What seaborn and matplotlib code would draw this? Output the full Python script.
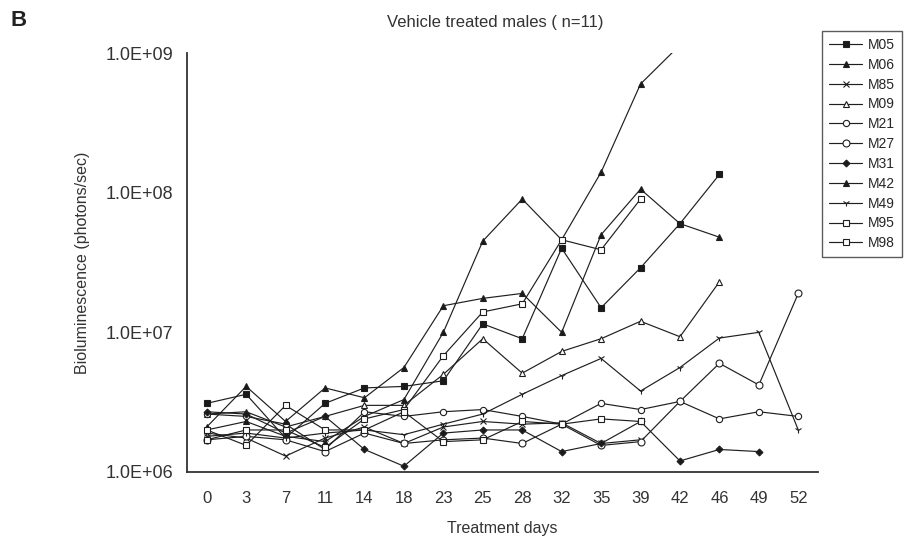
import numpy as np
import pandas as pd
import matplotlib
matplotlib.use("Agg")
import matplotlib.pyplot as plt
from matplotlib.ticker import NullLocator
import seaborn as sns

sns.set_style("white")
plt.rcParams['font.family'] = ['Liberation Sans', 'DejaVu Sans']

# --- data (photons/sec) ---
days = [0, 3, 7, 11, 14, 18, 23, 25, 28, 32, 35, 39, 42, 46, 49, 52]

m05 = [3.1e6, 3.6e6, 1.75e6, 3.1e6, 4.0e6, 4.1e6, 4.5e6, 1.15e7, 9.0e6, 4.0e7, 1.5e7, 2.9e7, 6.0e7, 1.35e8]
m06 = [2.0e6, 2.3e6, 1.8e6, 1.65e6, 2.5e6, 3.3e6, 1.0e7, 4.5e7, 9.0e7, 4.6e7, 1.4e8, 6.0e8, 1.14e9]
m85 = [1.9e6, 1.75e6, 1.3e6, 1.75e6, 2.1e6, 1.6e6, 2.1e6, 2.3e6, 2.2e6, 2.25e6, 1.6e6, 1.7e6]
m09 = [2.6e6, 2.7e6, 2.1e6, 2.5e6, 3.0e6, 3.0e6, 5.0e6, 9.0e6, 5.1e6, 7.3e6, 9.0e6, 1.2e7, 9.3e6, 2.3e7]
m21 = [2.6e6, 2.5e6, 2.2e6, 1.45e6, 2.7e6, 2.5e6, 2.7e6, 2.8e6, 2.5e6, 2.2e6, 3.1e6, 2.8e6, 3.2e6, 2.4e6, 2.7e6, 2.5e6]
m27 = [1.7e6, 1.8e6, 1.7e6, 1.4e6, 1.9e6, 1.6e6, 1.7e6, 1.75e6, 1.6e6, 2.2e6, 1.55e6, 1.65e6, 3.2e6, 6.0e6, 4.2e6, 1.9e7]
m31 = [2.7e6, 2.6e6, 1.9e6, 2.5e6, 1.45e6, 1.1e6, 1.9e6, 2.0e6, 2.0e6, 1.4e6, 1.6e6, 2.3e6, 1.2e6, 1.45e6, 1.4e6]
m42 = [2.1e6, 4.1e6, 2.3e6, 4.0e6, 3.4e6, 5.6e6, 1.55e7, 1.75e7, 1.9e7, 1.0e7, 5.0e7, 1.06e8, 6.0e7, 4.8e7]
m49 = [1.8e6, 1.9e6, 1.75e6, 1.9e6, 2.0e6, 1.85e6, 2.2e6, 2.6e6, 3.6e6, 4.9e6, 6.5e6, 3.8e6, 5.6e6, 9.1e6, 1.0e7, 2.0e6]
m95 = [1.7e6, 2.0e6, 2.0e6, 1.5e6, 2.4e6, 2.8e6, 6.8e6, 1.4e7, 1.6e7, 4.6e7, 3.9e7, 9.0e7]
m98 = [2.0e6, 1.55e6, 3.0e6, 2.0e6, 2.0e6, 2.7e6, 1.65e6, 1.7e6, 2.3e6, 2.2e6, 2.4e6, 2.3e6]

names = ['M05', 'M06', 'M85', 'M09', 'M21', 'M27', 'M31', 'M42', 'M49', 'M95', 'M98']
series = [m05, m06, m85, m09, m21, m27, m31, m42, m49, m95, m98]

# marker, face colour, size
styles = {
    'M05': ('s', '#1a1a1a', 4),
    'M06': ('^', '#1a1a1a', 4.2),
    'M85': ('x', '#1a1a1a', 4),
    'M09': ('^', 'white', 4.5),
    'M21': ('o', 'white', 4.5),
    'M27': ('o', 'white', 5),
    'M31': ('D', '#1a1a1a', 3.5),
    'M42': ('^', '#1a1a1a', 3.8),
    'M49': ('1', '#1a1a1a', 5),
    'M95': ('s', 'white', 4),
    'M98': ('s', 'white', 5),
}

ink = '#1f1f1f'
fig = plt.figure(figsize=(9.05, 5.44), dpi=100)
ax = fig.add_axes([187 / 905, 72 / 544, (818 - 187) / 905, (472 - 53) / 544])

for name, vals in zip(names, series):
    df = pd.DataFrame({'pos': np.arange(len(vals)), 'val': vals})
    mk, fc, ms = styles[name]
    sns.lineplot(data=df, x='pos', y='val', ax=ax, color=ink, linewidth=0.85,
                 marker=mk, markersize=ms, markerfacecolor=fc,
                 markeredgecolor=ink, markeredgewidth=0.8, label=name)

handles, labels = ax.get_legend_handles_labels()
if ax.get_legend() is not None:
    ax.get_legend().remove()

ax.set_yscale('log')
ax.set_ylim(1e6, 1e9)
ax.set_xlim(-0.5, len(days) - 0.5)

ax.set_yticks([1e6, 1e7, 1e8, 1e9])
ax.set_yticklabels(['1.0E+06', '1.0E+07', '1.0E+08', '1.0E+09'], fontsize=13, color='#333333')
ax.yaxis.set_minor_locator(NullLocator())

# excel style: ticks between categories, labels at the centre
ax.set_xticks(np.arange(-0.5, len(days), 1.0))
ax.set_xticklabels([])
ax.set_xticks(np.arange(len(days)), minor=True)
ax.set_xticklabels([str(d) for d in days], minor=True, fontsize=12, color='#333333')
ax.tick_params(axis='x', which='major', direction='out', length=6, width=1.1, color='#333333')
ax.tick_params(axis='x', which='minor', length=0, pad=14)
ax.tick_params(axis='y', direction='out', length=7, width=1.1, color='#333333', pad=3)

for s in ['top', 'right']:
    ax.spines[s].set_visible(False)
for s in ['left', 'bottom']:
    ax.spines[s].set_color('#333333')
    ax.spines[s].set_linewidth(1.3)

ax.set_xlabel('Treatment days', fontsize=11.5, color='#333333')
ax.xaxis.set_label_coords(0.5, (472 - 521) / 419)
ax.set_ylabel('Bioluminescence (photons/sec)', fontsize=11.5, color='#333333')
ax.yaxis.set_label_coords(-0.153, 0.5)

fig.text(495 / 905, 1 - 22 / 544, 'Vehicle treated males ( n=11)', fontsize=12,
         ha='center', va='center', color='#333333')
fig.text(10 / 905, 1 - 20 / 544, 'B', fontsize=16, fontweight='bold',
         ha='left', va='center', color='#222222')

fig.legend(handles, labels, loc='upper left', bbox_to_anchor=(822 / 905, 1 - 31 / 544),
           frameon=True, fancybox=False, edgecolor='#333333', fontsize=10,
           handlelength=2.4, labelspacing=0.42, borderpad=0.5, handletextpad=0.4,
           borderaxespad=0)

fig.savefig('out.png', dpi=100, facecolor='white')
